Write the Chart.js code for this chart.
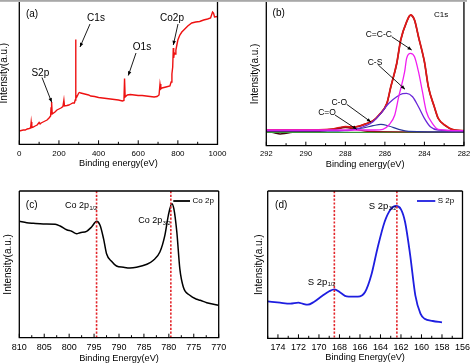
<!DOCTYPE html>
<html><head><meta charset="utf-8">
<script src="https://cdn.jsdelivr.net/npm/chart.js@4.4.0/dist/chart.umd.min.js"></script>
<style>
html,body{margin:0;padding:0;background:#fff;}
#wrap{position:relative;width:474px;height:364px;overflow:hidden;background:#fff;}
canvas{position:absolute;}
</style></head><body>
<div id="wrap">
<canvas id="pa" width="237" height="182" style="left:0;top:0;width:237px;height:182px"></canvas>
<canvas id="pb" width="237" height="182" style="left:237px;top:0;width:237px;height:182px"></canvas>
<canvas id="pc" width="237" height="182" style="left:0;top:182px;width:237px;height:182px"></canvas>
<canvas id="pd" width="237" height="182" style="left:237px;top:182px;width:237px;height:182px"></canvas>
</div>
<script>
// ---------- Panel (a): XPS survey ----------
const surveyEnergy = [0,10,20,30,40,50,57,60,63,70,80,90,100,105,110,120,130,140,150,158,160,163,166,170,180,190,200,210,220,225,228,240,250,260,270,278,282,284,286,290,300,305,310,320,330,340,350,360,380,400,420,440,460,480,500,520,528,531,534,545,560,580,600,620,640,660,680,695,705,710,714,720,740,760,766,770,774,777,779,782,786,790,795,800,810,820,835,850,870,890,910,930,950,965,975,980,985,1000];
const surveyIntensity = [13.3,13.8,14.3,14.3,15.3,15.8,16.3,22.3,16.8,17.3,18.3,19.3,21.8,20.3,21.3,22.3,23.3,24.3,26.3,28.3,36.3,42.3,30.3,30.3,32.3,34.3,35.3,36.3,37.8,44.3,38.3,38.8,39.3,40.3,41.3,41.3,44.3,104.8,49.3,47.3,51.3,51.8,51.3,50.8,50.3,49.8,49.3,48.3,47.8,46.8,46.3,45.8,45.3,44.8,44.3,43.3,43.8,65.8,47.3,49.3,49.8,49.3,48.8,48.8,48.3,47.8,47.3,47.8,49.3,60.3,55.3,56.3,57.3,58.3,62.3,70.3,77.3,96.3,86.3,91.3,90.3,94.3,99.3,104.3,109.3,112.3,115.3,118.3,121.3,122.3,122.8,124.3,125.3,126.3,132.3,131.3,127.3,127.8];
const surveyTicks = [0,200,400,600,800,1000];
const surveyMinor = [100,300,500,700,900];

// ---------- Panel (b): C1s ----------
const c1sRawE = [292,291.6,291.3,291,290.6,290.2,289.5,288.8,288.3,288,287.6,287.3,287,286.6,286.3,285.9,285.7,285.4,285.2,284.9,284.7,284.5,284.3,284,283.8,283.5,283.3,282.9,282.6,282];
const c1sRawI = [14.7,13,11.7,12.4,13.7,14.7,15,16.2,17.8,18.8,18.5,19.5,21.5,24.8,30.5,42.2,58.8,82.2,105.5,123.8,130.5,125.5,108.8,83.8,58.8,38.8,27.2,19.5,16.2,14.8];
const c1sFitE = [292,290.1,288.8,288.3,288,287.6,287.3,287,286.6,286.3,285.9,285.7,285.4,285.2,284.9,284.7,284.5,284.3,284,283.8,283.5,283.3,282.9,282.6,282];
const c1sFitI = [15.7,15.7,16.4,18,19,18.7,19.7,21.7,25,30.7,42.4,59,82.4,105.7,124,130.7,125.7,109,84,59,39,27.4,19.7,16.4,15];
const ccE = [292,286.5,286.1,285.8,285.5,285.3,285,284.9,284.7,284.5,284.3,284.1,283.9,283.6,283.3,282];
const ccI = [15.7,15.7,16.4,20.7,30.7,49,74,87.4,92.4,89,74,54,34,22.4,16.4,15];
const csE = [292,287.9,287.5,287,286.6,286.2,285.8,285.4,285.1,284.9,284.6,284.3,284,283.7,283.3,282];
const csI = [15,15,16.4,19.7,24,32.4,42.4,49,52,52.4,49,39,27.4,19,15.7,14.7];
const coE = [292,288.5,287.8,287.1,286.6,286.2,285.8,285.3,284.8,282];
const coI = [14.7,14.7,15.7,17.7,20,21.4,19.7,16.4,14.4,13.7];
const cdoE = [292,289.3,288.5,288,287.5,286.8,282];
const cdoI = [14.4,14.4,16.4,18,16.4,14.4,13.7];
const baseE = [292,282];
const baseI = [13.4,13.4];
const c1sTicks = [292,290,288,286,284,282];
const c1sMinor = [291,289,287,285,283];

// ---------- Panel (c): Co 2p ----------
const coEnergy = [810,808.5,807.2,805.2,802.8,801.8,800.5,799.5,798.5,797.8,796.5,795.5,794.5,793.8,793.1,792.5,791.5,790.5,789.1,787.8,786.5,784.4,783.1,781.8,780.8,780.1,779.4,779,778.4,777.8,777.1,775.8,774.4,773.7,772.4,770];
const coIntensity = [116.4,115,114.4,113.7,113.4,111.7,108,106.4,104,105,106.4,110.7,116.4,112.4,99,84,76.4,71.7,70.4,69.7,70.4,73.4,77.4,85.7,102.4,122.4,134,129,105.7,69,50.7,42.4,38.4,37.4,35,32.4];
const coPeaks = [794.5,779.6];
const coTicks = [810,805,800,795,790,785,780,775,770];
const coMinor = [807.5,802.5,797.5,792.5,787.5,782.5,777.5,772.5];

// ---------- Panel (d): S 2p ----------
const sEnergy = [175,173.8,172.8,172,171.6,171.1,170.5,169.7,169,168.5,167.9,167.3,166.2,165.5,164.9,164.3,163.6,163,162.5,162,161.6,161.1,160.6,160.1,159.7,158.9,158];
const sIntensity = [37,35.6,34.6,35.6,34.6,33.6,36.3,42.3,47,49,45.6,42,41.6,46.3,63,89.6,116.3,129,132.3,129,116.3,83,43,24.6,19.6,17.3,16];
const sPeaks = [168.5,162.4];
const sTicks = [174,172,170,168,166,164,162,160,158,156];
const sMinor = [175,173,171,169,167,165,163,161,159,157];

const FF = '"Liberation Sans", Arial, sans-serif';
const W = 237, H = 182;
const pts = (xs, ys) => xs.map((x, i) => ({x, y: ys[i]}));

const deco = {
  id: 'deco',
  afterDatasetsDraw(chart, args, o) {
    const {ctx, chartArea: ca} = chart;
    const x = chart.scales.x;
    ctx.save();
    if (o.grayTop) {
      ctx.fillStyle = '#a8a8a8';
      ctx.fillRect(0, 0, o.grayTop, 1.8);
    }
    (o.vlines || []).forEach(v => {
      const px = x.getPixelForValue(v);
      ctx.strokeStyle = '#e3262b'; ctx.lineWidth = 1.6; ctx.setLineDash([2.2, 1.6]);
      ctx.beginPath(); ctx.moveTo(px, ca.top); ctx.lineTo(px, ca.bottom); ctx.stroke();
    });
    ctx.setLineDash([]);
    ctx.strokeStyle = '#000'; ctx.lineWidth = 1.3;
    ctx.beginPath();
    if (!o.noTop) { ctx.moveTo(ca.left, ca.top); ctx.lineTo(ca.right, ca.top); }
    ctx.moveTo(ca.right, ca.top); ctx.lineTo(ca.right, ca.bottom);
    ctx.lineTo(ca.left, ca.bottom); ctx.lineTo(ca.left, ca.top);
    ctx.stroke();
    ctx.lineWidth = 1;
    ctx.beginPath();
    o.major.forEach(v => { const p = x.getPixelForValue(v); ctx.moveTo(p, ca.bottom); ctx.lineTo(p, ca.bottom - 4); });
    o.minor.forEach(v => { const p = x.getPixelForValue(v); ctx.moveTo(p, ca.bottom); ctx.lineTo(p, ca.bottom - 2.5); });
    ctx.stroke();
    ctx.fillStyle = '#000';
    ctx.textBaseline = 'middle';
    (o.texts || []).forEach(t => {
      ctx.font = t.s + 'px ' + FF;
      ctx.textAlign = t.a || 'center';
      ctx.fillText(t.t, t.x, t.y);
      if (t.sub) {
        const w = ctx.measureText(t.t).width;
        ctx.font = (t.ss || 5.5) + 'px ' + FF;
        ctx.textAlign = 'left';
        ctx.fillText(t.sub, t.x + w + 0.5, t.y + 2.8);
      }
    });
    ctx.strokeStyle = '#000'; ctx.lineWidth = 0.9;
    (o.arrows || []).forEach(a => {
      const [x1, y1, x2, y2] = a;
      ctx.beginPath(); ctx.moveTo(x1, y1); ctx.lineTo(x2, y2); ctx.stroke();
      const ang = Math.atan2(y2 - y1, x2 - x1), L = 4.5, sp = 0.4;
      ctx.beginPath(); ctx.moveTo(x2, y2);
      ctx.lineTo(x2 - L * Math.cos(ang - sp), y2 - L * Math.sin(ang - sp));
      ctx.lineTo(x2 - L * Math.cos(ang + sp), y2 - L * Math.sin(ang + sp));
      ctx.closePath(); ctx.fill();
    });
    if (o.legend) {
      const g = o.legend, ds = chart.data.datasets[0];
      ctx.strokeStyle = ds.borderColor; ctx.lineWidth = 1.8;
      ctx.beginPath(); ctx.moveTo(g.x1, g.y); ctx.lineTo(g.x2, g.y); ctx.stroke();
      ctx.fillStyle = '#000'; ctx.font = g.s + 'px ' + FF; ctx.textAlign = 'left';
      ctx.fillText(ds.label, g.x2 + 2.5, g.y);
    }
    ctx.restore();
  }
};

function panel(id, p) {
  return new Chart(document.getElementById(id), {
    type: 'line',
    data: {datasets: p.datasets},
    options: {
      responsive: false, animation: false, devicePixelRatio: 1,
      layout: {padding: {left: 0, top: p.area.top, right: W - p.area.right, bottom: 0}},
      plugins: {legend: {display: false}, tooltip: {enabled: false}, deco: p.deco},
      elements: {point: {radius: 0}},
      scales: {
        x: {
          type: 'linear', min: p.xmin, max: p.xmax, reverse: !!p.reverse,
          grid: {display: false, drawTicks: false}, border: {display: false},
          afterFit: s => { s.height = H - p.area.bottom; },
          afterBuildTicks: s => { s.ticks = p.ticks.map(v => ({value: v})); },
          ticks: {autoSkip: false, maxRotation: 0, padding: p.tickPad, color: '#000',
                  font: {family: FF, size: p.tickSize}, callback: v => String(v)},
          title: {display: true, text: p.xTitle, color: '#000', font: {family: FF, size: 9.2},
                  padding: {top: 0, bottom: p.xTitlePad}}
        },
        y: {
          min: 0, max: p.area.bottom - p.area.top,
          ticks: {display: false}, grid: {display: false, drawTicks: false}, border: {display: false},
          afterFit: s => { s.width = p.area.left; },
          title: {display: true, text: 'Intensity(a.u.)', color: '#000', font: {family: FF, size: 10},
                  padding: {top: p.yTitlePad, bottom: 0}}
        }
      }
    },
    plugins: [deco]
  });
}

const line = (label, xs, ys, color, w, smooth) => ({
  label, data: pts(xs, ys), borderColor: color, borderWidth: w, fill: false,
  pointRadius: 0, cubicInterpolationMode: smooth ? 'monotone' : 'default', tension: 0
});

panel('pa', {
  area: {left: 19.3, top: 2, right: 217.5, bottom: 144.3},
  xmin: 0, xmax: 1000, ticks: surveyTicks, tickSize: 8, tickPad: 4.9,
  xTitle: 'Binding energy(eV)', xTitlePad: 13.2, yTitlePad: -2,
  datasets: [line('Survey', surveyEnergy, surveyIntensity, '#ee1111', 1.4, false)],
  deco: {
    grayTop: 237, noTop: true, major: surveyTicks, minor: surveyMinor,
    texts: [{t: '(a)', x: 32, y: 14.5, s: 10}, {t: 'C1s', x: 96, y: 18.3, s: 10},
            {t: 'O1s', x: 142, y: 47, s: 10}, {t: 'Co2p', x: 172, y: 18, s: 10},
            {t: 'S2p', x: 40.3, y: 73, s: 10}],
    arrows: [[90, 24, 80, 47], [136, 53, 128.3, 75.5], [178, 24, 173.3, 45], [42, 77.5, 51.7, 102.3]]
  }
});

panel('pb', {
  area: {left: 29.3, top: 2, right: 228.7, bottom: 145.7},
  xmin: 282, xmax: 292, reverse: true, ticks: c1sTicks, tickSize: 7.5, tickPad: 3.8,
  xTitle: 'Binding energy(eV)', xTitlePad: 12.5, yTitlePad: 12.3,
  datasets: [
    line('C=C-C', ccE, ccI, '#f01ef0', 1.3, true),
    line('C-S', csE, csI, '#6a28d8', 1.3, true),
    line('C-O', coE, coI, '#28359a', 1.2, true),
    line('C=O', cdoE, cdoI, '#8b1a1a', 1.2, true),
    line('Baseline', baseE, baseI, '#3a9a3a', 1.2, false),
    line('Fit', c1sFitE, c1sFitI, '#e01818', 1.8, true),
    line('Raw', c1sRawE, c1sRawI, '#3a0a0a', 1.4, true)
  ],
  deco: {
    grayTop: 230, noTop: true, major: c1sTicks, minor: c1sMinor,
    texts: [{t: '(b)', x: 41.7, y: 13.5, s: 10}, {t: 'C1s', x: 204.2, y: 14.5, s: 8},
            {t: 'C=C-C', x: 141.8, y: 35, s: 8.5}, {t: 'C-S', x: 138, y: 62.2, s: 8.5},
            {t: 'C-O', x: 102.2, y: 102.8, s: 8.5}, {t: 'C=O', x: 90, y: 112.8, s: 8.5}],
    arrows: [[154.7, 36.7, 174.7, 50], [141.3, 65, 168, 89.3], [109.7, 104.3, 134, 122], [98, 115, 119.7, 129.3]]
  }
});

panel('pc', {
  area: {left: 19.3, top: 9, right: 218.7, bottom: 155.7},
  xmin: 770, xmax: 810, reverse: true, ticks: coTicks, tickSize: 9, tickPad: 4.6,
  xTitle: 'Binding Energy(eV)', xTitlePad: 0, yTitlePad: 2.3,
  datasets: [line('Co 2p', coEnergy, coIntensity, '#000000', 1.5, true)],
  deco: {
    major: coTicks, minor: coMinor, vlines: coPeaks,
    texts: [{t: '(c)', x: 31.7, y: 23.2, s: 10},
            {t: 'Co 2p', sub: '1/2', x: 65, y: 24, s: 9, a: 'left'},
            {t: 'Co 2p', sub: '3/2', x: 138.3, y: 38.3, s: 9, a: 'left'}],
    legend: {x1: 173.3, x2: 190, y: 19, s: 8}
  }
});

panel('pd', {
  area: {left: 30.7, top: 9, right: 230, bottom: 156.3},
  xmin: 156, xmax: 175, reverse: true, ticks: sTicks, tickSize: 9, tickPad: 4,
  xTitle: 'Binding Energy(eV)', xTitlePad: 1, yTitlePad: 16,
  datasets: [line('S 2p', sEnergy, sIntensity, '#1e1ee0', 1.8, true)],
  deco: {
    major: sTicks, minor: sMinor, vlines: sPeaks,
    texts: [{t: '(d)', x: 44.2, y: 23.7, s: 10},
            {t: 'S 2p', sub: '3/2', x: 131.7, y: 24, s: 9.5, a: 'left'},
            {t: 'S 2p', sub: '1/2', x: 70.7, y: 100, s: 9.5, a: 'left'}],
    legend: {x1: 180, x2: 198.3, y: 19, s: 8}
  }
});
</script>
</body></html>
